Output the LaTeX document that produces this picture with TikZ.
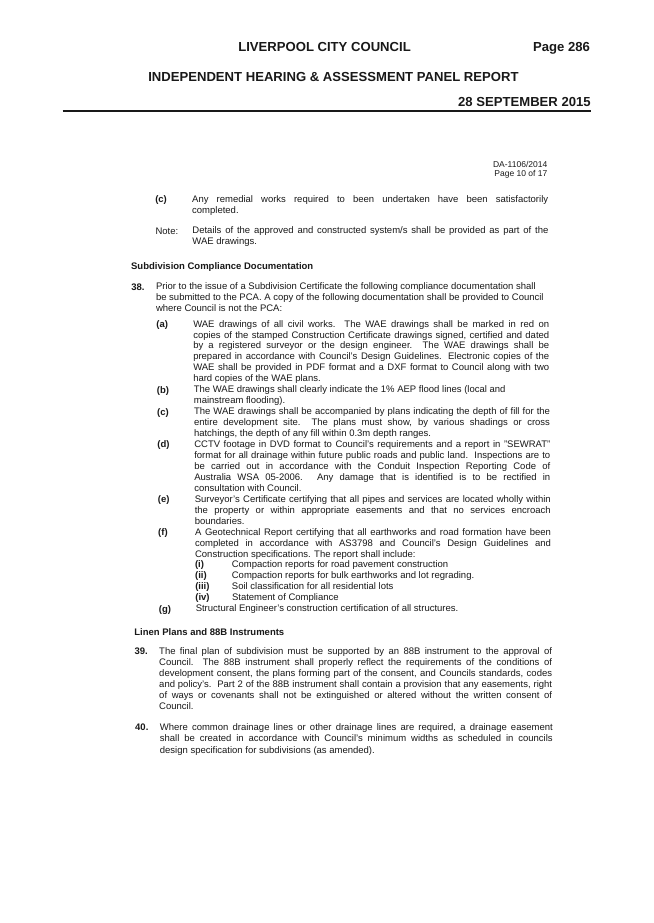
\documentclass[tikz,border=0pt]{standalone}
\usepackage{fontspec}
\setmainfont{Liberation Sans}
\definecolor{ink}{gray}{0.10}
\hbadness=10000 \vbadness=10000 \hfuzz=20pt \tolerance=10000
\tikzset{
  every node/.style={inner sep=0pt, outer sep=0pt, text=ink},
  hdr/.style={anchor=base west, font=\fontsize{13.1}{15}\selectfont\bfseries},
  hdrR/.style={anchor=base east, font=\fontsize{13.1}{15}\selectfont\bfseries},
  body/.style={anchor=base west, font=\fontsize{9.5}{10.95}\selectfont},
  bodyB/.style={anchor=base west, font=\fontsize{9.5}{11.1}\selectfont},
  bodyC/.style={anchor=base west, font=\fontsize{9.5}{11.5}\selectfont},
  lab/.style={anchor=base west, font=\fontsize{9.5}{10.95}\selectfont\bfseries},
  refR/.style={anchor=base east, font=\fontsize{8.5}{9.5}\selectfont},
  rulestyle/.style={draw=ink, line width=1.2pt},
}
\newcommand{\wi}{356pt}
\newcommand{\ww}{392.9pt}
\begin{document}
\begin{tikzpicture}[x=1pt,y=-1pt]
\fill[white] (0,0) rectangle (653,923);
\useasboundingbox (0,0) rectangle (653,923);
% header
\node[hdr] (h1) at (238.3,51.4) {LIVERPOOL CITY COUNCIL};
\node[hdrR] (h2) at (590,51.4) {Page 286};
\node[hdr] (h3) at (148.3,81.4) {INDEPENDENT HEARING \& ASSESSMENT PANEL REPORT};
\node[hdrR] (h4) at (590.7,106.4) {28 SEPTEMBER 2015};
\coordinate (rl) at (62.7,111);
\coordinate (rr) at (590.7,111);
\draw[rulestyle] (rl) -- (rr);
% body (scanned, slightly skewed: positions only)
\begin{scope}[rotate around={0.5:(340,480)}]
\node[refR] (da) at (550,169.3) {DA-1106/2014};
\node[refR] (pg) at (550,178.8) {Page 10 of 17};
\node[lab] (lc0) at (157.7,200.8) {(c)};
\node[body] (tc0) at (194.6,200.8) {\parbox[t]{\wi}{Any remedial works required to been undertaken have been satisfactorily\linebreak completed.}};
\node[body] (lnote) at (157.7,232.5) {Note:};
\node[body] (tnote) at (194.6,232.5) {\parbox[t]{\wi}{Details of the approved and constructed system/s shall be provided as part of the\linebreak WAE drawings.}};
\node[lab] (hd1) at (133,267.2) {Subdivision Compliance Documentation};
\node[lab] (l38) at (133,288.2) {38.};
\node[body] (t38) at (157.7,288.2) {\parbox[t]{\ww}{Prior to the issue of a Subdivision Certificate the following compliance documentation shall\newline be submitted to the PCA. A copy of the following documentation shall be provided to Council\newline where Council is not the PCA:}};
\node[lab] (la) at (157.7,325.8) {(a)};
\node[body] (ta) at (194.6,325.8) {\parbox[t]{\wi}{WAE drawings of all civil works. The WAE drawings shall be marked in red on\linebreak copies of the stamped Construction Certificate drawings signed, certified and dated\linebreak by a registered surveyor or the design engineer.\ \ The WAE drawings shall be\linebreak prepared in accordance with Council's Design Guidelines. Electronic copies of the\linebreak WAE shall be provided in PDF format and a DXF format to Council along with two\linebreak hard copies of the WAE plans.}};
\node[lab] (lb) at (157.7,391.5) {(b)};
\node[body] (tb) at (194.6,391.5) {\parbox[t]{\wi}{The WAE drawings shall clearly indicate the 1\% AEP flood lines (local and\newline mainstream flooding).}};
\node[lab] (lc) at (157.7,413.4) {(c)};
\node[body] (tc) at (194.6,413.4) {\parbox[t]{\wi}{The WAE drawings shall be accompanied by plans indicating the depth of fill for the\linebreak entire development site.\ \ The plans must show, by various shadings or cross\linebreak hatchings, the depth of any fill within 0.3m depth ranges.}};
\node[lab] (ld) at (157.7,446.3) {(d)};
\node[body] (td) at (194.6,446.3) {\parbox[t]{\wi}{CCTV footage in DVD format to Council's requirements and a report in "SEWRAT"\linebreak format for all drainage within future public roads and public land.\ \ Inspections are to\linebreak be carried out in accordance with the Conduit Inspection Reporting Code of\linebreak Australia WSA 05-2006. Any damage that is identified is to be rectified in\linebreak consultation with Council.}};
\node[lab] (le) at (157.7,501.0) {(e)};
\node[body] (te) at (194.6,501.0) {\parbox[t]{\wi}{Surveyor's Certificate certifying that all pipes and services are located wholly within\linebreak the property or within appropriate easements and that no services encroach\linebreak boundaries.}};
\node[lab] (lf) at (157.7,533.9) {(f)};
\node[body] (tf) at (194.6,533.9) {\parbox[t]{\wi}{A Geotechnical Report certifying that all earthworks and road formation have been\linebreak completed in accordance with AS3798 and Council's Design Guidelines and\linebreak Construction specifications. The report shall include:}};
\node[lab] (li) at (194.3,566.7) {(i)};
\node[body] (ti) at (231,566.7) {Compaction reports for road pavement construction};
\node[lab] (lii) at (194.3,577.7) {(ii)};
\node[body] (tii) at (231,577.7) {Compaction reports for bulk earthworks and lot regrading.};
\node[lab] (liii) at (194.3,588.6) {(iii)};
\node[body] (tiii) at (231,588.6) {Soil classification for all residential lots};
\node[lab] (liv) at (194.3,599.6) {(iv)};
\node[body] (tiv) at (231,599.6) {Statement of Compliance};
\node[lab] (lg) at (157.7,610.5) {(g)};
\node[body] (tg) at (194.6,610.5) {Structural Engineer's construction certification of all structures.};
\node[lab] (hd2) at (133,633.2) {Linen Plans and 88B Instruments};
\node[lab] (l39) at (133,652.5) {39.};
\node[bodyB] (t39) at (157.7,652.5) {\parbox[t]{\ww}{The final plan of subdivision must be supported by an 88B instrument to the approval of\linebreak Council.\ \ The 88B instrument shall properly reflect the requirements of the conditions of\linebreak development consent, the plans forming part of the consent, and Councils standards, codes\linebreak and policy's.\ \ Part 2 of the 88B instrument shall contain a provision that any easements, right\linebreak of ways or covenants shall not be extinguished or altered without the written consent of\linebreak Council.}};
\node[lab] (l40) at (133,728.8) {40.};
\node[bodyC] (t40) at (157.7,728.8) {\parbox[t]{\ww}{Where common drainage lines or other drainage lines are required, a drainage easement\linebreak shall be created in accordance with Council's minimum widths as scheduled in councils\linebreak design specification for subdivisions (as amended).}};
\end{scope}
\end{tikzpicture}
\end{document}
